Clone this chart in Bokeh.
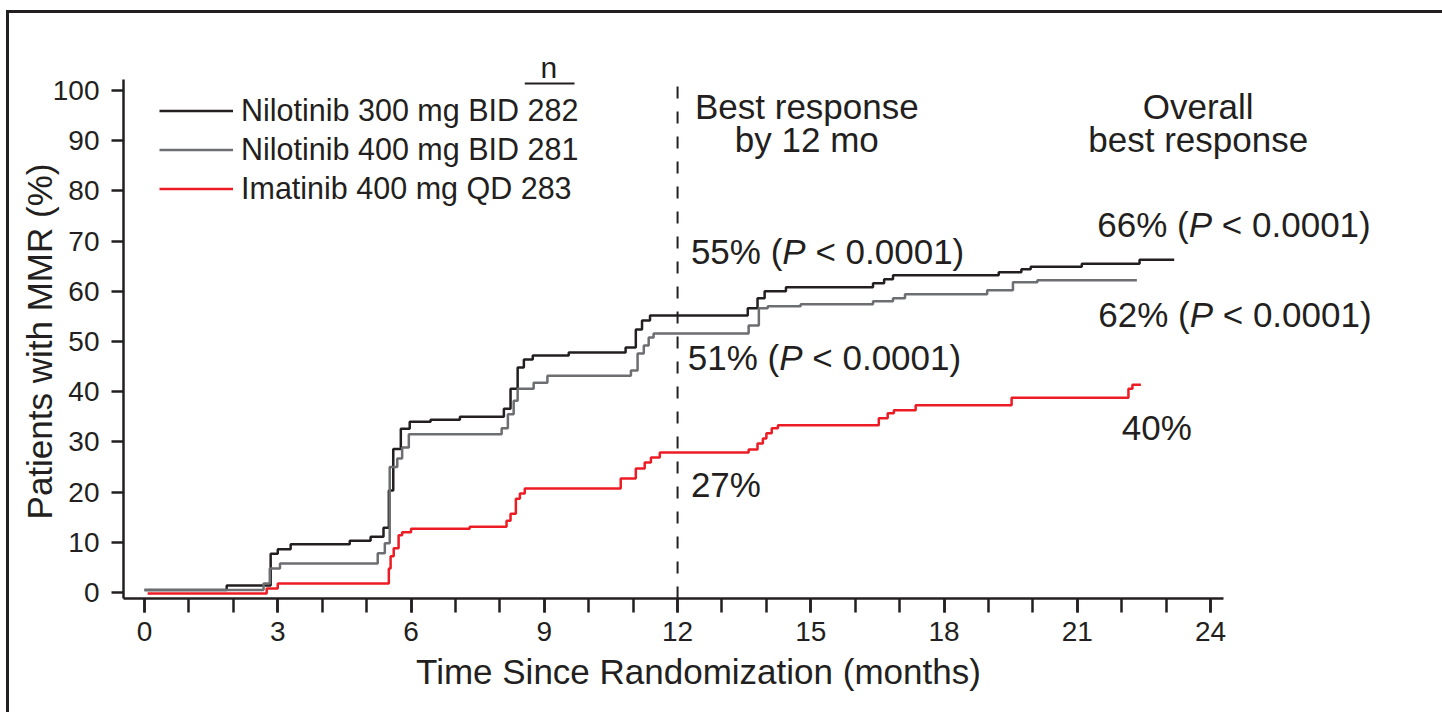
import math
from bokeh.plotting import figure
from bokeh.models import Range1d, FixedTicker, Legend, LegendItem
from bokeh.core.properties import value
from bokeh.embed import file_html
from bokeh.resources import INLINE

FONT = "Liberation Sans"
INK = "#231f20"
GRAY = "#6d6e71"
RED = "#ed1c24"

# ---- data ----
arms = ["Nilotinib 300 mg BID", "Nilotinib 400 mg BID", "Imatinib 400 mg QD"]
arm_n = [282, 281, 283]

nil300_t = [0, 1.85, 2.84, 3.0, 3.29, 4.62, 5.09, 5.38, 5.5, 5.6, 5.77, 5.97, 6.44, 7.1,
            8.09, 8.24, 8.4, 8.54, 8.74, 9.55, 10.83, 11.06, 11.2, 11.38, 13.58, 13.8,
            13.96, 14.44, 16.4, 16.65, 16.85, 19.23, 19.74, 19.95, 21.1, 22.4, 23.18]
nil300_y = [0.5, 1.4, 7.7, 8.6, 9.6, 10.3, 11.1, 12.9, 20.3, 28.6, 32.6, 34.0, 34.4, 35.0,
            36.6, 40.6, 44.8, 46.4, 47.2, 47.8, 48.8, 52.4, 54.2, 55.2, 56.6, 58.6,
            60.0, 60.8, 61.6, 62.4, 63.2, 63.8, 64.4, 64.9, 65.5, 66.3, 66.3]

nil400_t = [0, 2.68, 2.82, 3.05, 5.25, 5.41, 5.52, 5.69, 5.8, 5.95, 8.04, 8.18, 8.31, 8.4,
            8.76, 9.07, 10.95, 11.1, 11.24, 11.35, 11.46, 13.6, 13.83, 14.03, 14.77, 16.4,
            16.85, 17.12, 18.97, 19.55, 20.1, 22.34]
nil400_y = [0.5, 1.8, 4.8, 5.8, 7.8, 9.8, 25.0, 26.7, 28.9, 31.5, 32.7, 35.5, 38.2, 40.6,
            41.8, 43.2, 44.2, 47.6, 49.2, 50.8, 51.6, 53.2, 56.6, 57.0, 57.4, 58.0,
            58.6, 59.4, 60.2, 61.8, 62.2, 62.2]

ima_t = [0.07, 2.75, 3.0, 5.5, 5.54, 5.61, 5.72, 5.8, 6.0, 7.32, 8.15, 8.24, 8.36, 8.45,
         8.56, 10.72, 11.06, 11.26, 11.4, 11.6, 13.6, 13.8, 13.92, 14.0, 14.12, 14.26,
         16.53, 16.73, 16.87, 17.36, 19.52, 22.15, 22.24, 22.43]
ima_y = [-0.2, 0.8, 1.8, 4.8, 7.2, 8.8, 11.4, 12.0, 12.7, 13.1, 14.3, 15.7, 18.7, 19.7,
         20.7, 22.7, 24.7, 25.9, 26.9, 27.9, 28.5, 29.7, 30.7, 31.7, 32.7, 33.3,
         34.7, 35.7, 36.3, 37.3, 38.8, 40.6, 41.4, 41.4]

x_major_ticks = [0, 3, 6, 9, 12, 15, 18, 21, 24]
x_minor_ticks = list(range(0, 25))
y_ticks = [0, 10, 20, 30, 40, 50, 60, 70, 80, 90, 100]

cutoff_month = 12
pct_12mo = [55, 51, 27]
pct_overall = [66, 62, 40]
p_rest = "< 0.0001)"

# axis extents (data units) and whole-canvas view ranges
X_AXIS_BOUNDS = (-0.473, 24.28)
Y_AXIS_BOUNDS = (-1.195, 102.2)
X_VIEW = (-3.242, 29.22)
Y_VIEW = (-23.904, 117.928)

# ---- figure: the frame covers the whole canvas; axes sit at fixed locations ----
p = figure(width=1442, height=712, output_backend="svg", toolbar_location=None,
           x_range=Range1d(*X_VIEW), y_range=Range1d(*Y_VIEW),
           min_border_left=0, min_border_right=0, min_border_top=0,
           min_border_bottom=0)
p.outline_line_color = None
p.xgrid.visible = False
p.ygrid.visible = False
p.background_fill_color = "white"
p.border_fill_color = "white"

# page frame (left and top rules)
FRAME_X = -3.084
FRAME_Y = 115.74
p.line(x=[FRAME_X, FRAME_X, X_VIEW[1] + 1], y=[Y_VIEW[0] - 1, FRAME_Y, FRAME_Y],
       line_color=INK, line_width=3, line_join="miter")

xa = p.xaxis[0]
ya = p.yaxis[0]
xa.fixed_location = Y_AXIS_BOUNDS[0]
ya.fixed_location = X_AXIS_BOUNDS[0]
xa.bounds = X_AXIS_BOUNDS
ya.bounds = Y_AXIS_BOUNDS
xa.ticker = FixedTicker(ticks=x_major_ticks, minor_ticks=x_minor_ticks)
ya.ticker = FixedTicker(ticks=y_ticks)
for ax in (xa, ya):
    ax.axis_line_color = INK
    ax.axis_line_width = 2.5
    ax.major_tick_line_color = INK
    ax.major_tick_line_width = 2.5
    ax.minor_tick_line_color = INK
    ax.minor_tick_line_width = 2.5
    ax.major_tick_in = 0
    ax.minor_tick_in = 0
    ax.major_label_text_font = FONT
    ax.major_label_text_font_size = "28px"
    ax.major_label_text_color = INK
xa.major_tick_out = 14
xa.minor_tick_out = 14
xa.major_label_standoff = 9
ya.major_tick_out = 12
ya.minor_tick_out = 0
ya.minor_tick_line_color = None
ya.major_label_standoff = 12

ANN = dict(text_font=value(FONT), text_font_size="35px", text_color=INK,
           text_baseline="alphabetic")

# axis titles
p.text(x=[12.47], y=[-15.74], text=["Time Since Randomization (months)"],
       text_align="center", **ANN)
p.text(x=[-2.364], y=[50.0], text=["Patients with MMR (%)"], angle=math.pi / 2,
       text_align="center", **ANN)

# 12-month reference line
p.segment(x0=[cutoff_month], y0=[Y_AXIS_BOUNDS[0]], x1=[cutoff_month], y1=[100.8],
          line_color=INK, line_width=2, line_dash="12 13")

# curves
r_red = p.step(ima_t, ima_y, mode="after", line_color=RED, line_width=2.5)
r_blk = p.step(nil300_t, nil300_y, mode="after", line_color=INK, line_width=2.5)
r_gry = p.step(nil400_t, nil400_y, mode="after", line_color=GRAY, line_width=2.5)

legend = Legend(items=[
    LegendItem(label=f"{arms[0]} {arm_n[0]}", renderers=[r_blk]),
    LegendItem(label=f"{arms[1]} {arm_n[1]}", renderers=[r_gry]),
    LegendItem(label=f"{arms[2]} {arm_n[2]}", renderers=[r_red]),
], location=(159, 504))
legend.glyph_width = 74
legend.glyph_height = 39
legend.label_height = 39
legend.spacing = 0
legend.padding = 0
legend.margin = 0
legend.label_standoff = 8
legend.border_line_color = None
legend.background_fill_alpha = 0
legend.label_text_font = FONT
legend.label_text_font_size = "30.5px"
legend.label_text_color = INK
p.add_layout(legend)

# "n" column header with underline
p.text(x=[9.1], y=[104.6], text=["n"], text_align="center",
       text_font=value(FONT), text_font_size="30px", text_color=INK,
       text_baseline="alphabetic")
p.segment(x0=[8.56], y0=[101.4], x1=[9.68], y1=[101.4], line_color=INK, line_width=2)

# column headers
p.text(x=[14.91, 14.91, 23.72, 23.72], y=[96.8, 90.2, 96.8, 90.2],
       text=["Best response", "by 12 mo", "Overall", "best response"],
       text_align="center", **ANN)

def pval_label(x, y, pct):
    p.text(x=[x], y=[y], text=[f"{pct}% ("], text_align="left", **ANN)
    p.text(x=[x], y=[y], text=["P"], text_align="left", x_offset=91.4,
           text_font_style="italic", **ANN)
    p.text(x=[x], y=[y], text=[p_rest], text_align="left", x_offset=124.5, **ANN)

pval_label(12.30, 67.9, pct_12mo[0])
pval_label(12.23, 46.8, pct_12mo[1])
p.text(x=[12.30], y=[21.5], text=[f"{pct_12mo[2]}%"], text_align="left", **ANN)
pval_label(21.45, 73.3, pct_overall[0])
pval_label(21.47, 55.4, pct_overall[1])
p.text(x=[22.0], y=[32.9], text=[f"{pct_overall[2]}%"], text_align="left", **ANN)

open("out.html", "w").write(file_html(p, INLINE))
